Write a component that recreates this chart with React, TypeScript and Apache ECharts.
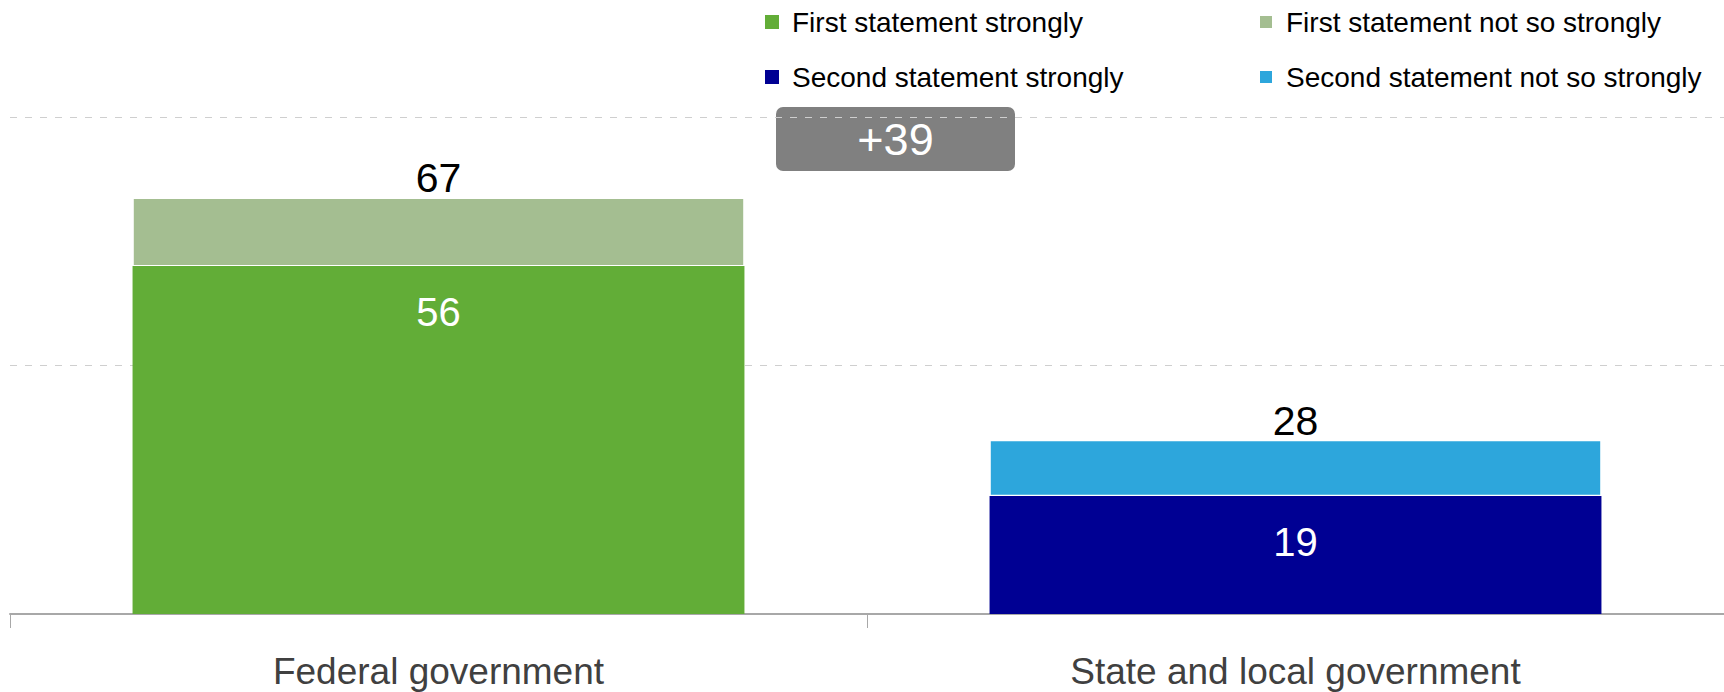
import React, { useEffect, useRef } from "react";
import * as echarts from "echarts";

const categories = ["Federal government", "State and local government"];
const firstStrongly: (number | null)[] = [56, null];
const firstNotSoStrongly: (number | null)[] = [11, null];
const secondStrongly: (number | null)[] = [null, 19];
const secondNotSoStrongly: (number | null)[] = [null, 9];
const seriesNames = [
  "First statement strongly",
  "First statement not so strongly",
  "Second statement strongly",
  "Second statement not so strongly",
];
const yTicks = { min: 0, max: 80, interval: 40 };

const FONT = "'Liberation Sans', Arial, Helvetica, sans-serif";

export default function App() {
  const ref = useRef<HTMLDivElement>(null);
  useEffect(() => {
    document.body.style.margin = "0";
    if (!ref.current) return;
    const chart = echarts.init(ref.current, null, { renderer: "svg" });

    const totals = categories.map(
      (_, i) =>
        (firstStrongly[i] ?? 0) +
        (firstNotSoStrongly[i] ?? 0) +
        (secondStrongly[i] ?? 0) +
        (secondNotSoStrongly[i] ?? 0)
    );
    const diff = totals[0] - totals[1];

    const insideLabel = {
      show: true,
      position: "insideTop" as const,
      distance: 26,
      color: "#ffffff",
      fontSize: 40,
      fontFamily: FONT,
    };
    const topLabel = {
      show: true,
      position: "top" as const,
      distance: -1,
      color: "#000000",
      fontSize: 41,
      fontFamily: FONT,
      formatter: (p: any) => String(totals[p.dataIndex]),
    };

    const legendCommon = {
      orient: "vertical" as const,
      top: 8,
      padding: 0,
      itemGap: 27,
      itemWidth: 30,
      itemHeight: 14,
      icon: "path://M0,0H10V10H0Z",
      symbolKeepAspect: true,
      selectedMode: false,
      textStyle: { fontSize: 28, lineHeight: 28, color: "#000000", fontFamily: FONT },
    };

    chart.setOption({
      animation: false,
      textStyle: { fontFamily: FONT },
      legend: [
        { ...legendCommon, left: 765, data: [seriesNames[0], seriesNames[2]] },
        { ...legendCommon, left: 1258, data: [seriesNames[1], seriesNames[3]] },
      ],
      grid: { left: 10, right: 0, top: 117, bottom: 78, containLabel: false },
      xAxis: {
        type: "category",
        data: categories,
        boundaryGap: true,
        axisLine: { show: true, lineStyle: { color: "#a8a8a8", width: 2 } },
        axisTick: { show: true, length: 14, lineStyle: { color: "#a8a8a8", width: 1 } },
        axisLabel: { color: "#404040", fontSize: 37, margin: 39, fontFamily: FONT },
      },
      yAxis: {
        type: "value",
        min: yTicks.min,
        max: yTicks.max,
        interval: yTicks.interval,
        axisLabel: { show: false },
        axisLine: { show: false },
        axisTick: { show: false },
        splitLine: { show: true, lineStyle: { color: "#cfcfcf", width: 1, type: [7, 8] } },
      },
      series: [
        {
          name: seriesNames[0],
          type: "bar",
          stack: "total",
          barWidth: "71.4%",
          data: firstStrongly.map((v) => (v == null ? "-" : v)),
          itemStyle: { color: "#62ad37" },
          label: insideLabel,
        },
        {
          name: seriesNames[1],
          type: "bar",
          stack: "total",
          barWidth: "71.4%",
          data: firstNotSoStrongly.map((v) => (v == null ? "-" : v)),
          itemStyle: { color: "#a4be91", borderColor: "#ffffff", borderWidth: 1.2 },
          label: topLabel,
        },
        {
          name: seriesNames[2],
          type: "bar",
          stack: "total",
          barWidth: "71.4%",
          data: secondStrongly.map((v) => (v == null ? "-" : v)),
          itemStyle: { color: "#000093" },
          label: insideLabel,
        },
        {
          name: seriesNames[3],
          type: "bar",
          stack: "total",
          barWidth: "71.4%",
          data: secondNotSoStrongly.map((v) => (v == null ? "-" : v)),
          itemStyle: { color: "#2da6dc", borderColor: "#ffffff", borderWidth: 1.2 },
          label: topLabel,
        },
      ],
      graphic: [
        {
          type: "group",
          left: 776,
          top: 107,
          children: [
            {
              type: "rect",
              shape: { x: 0, y: 0, width: 239, height: 64, r: 7 },
              style: { fill: "#808080" },
            },
            {
              type: "text",
              x: 119.5,
              y: 32,
              style: {
                text: "+" + diff,
                fill: "#ffffff",
                fontSize: 45,
                fontFamily: FONT,
                align: "center",
                verticalAlign: "middle",
              },
            },
          ],
        },
      ],
    });
    return () => chart.dispose();
  }, []);
  return <div ref={ref} style={{ width: 1724, height: 692 }} />;
}
